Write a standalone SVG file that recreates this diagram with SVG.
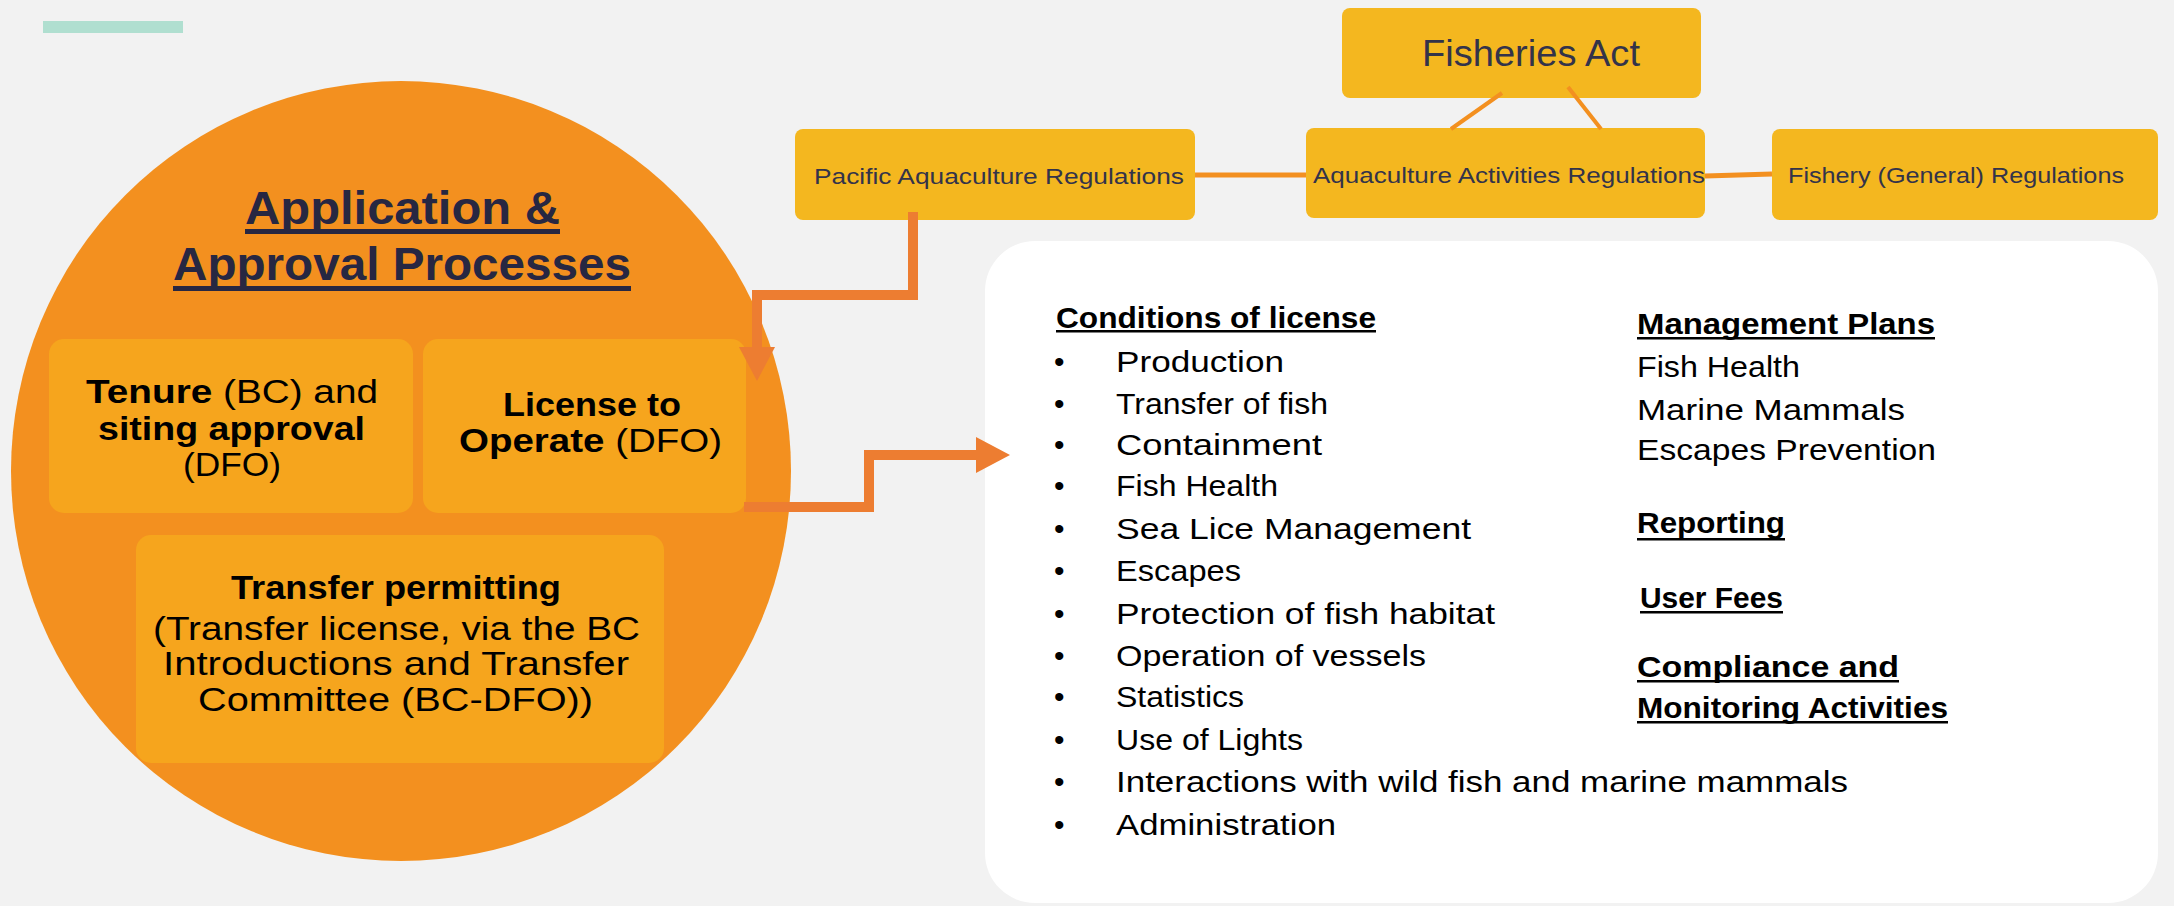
<svg xmlns="http://www.w3.org/2000/svg" width="2174" height="906" viewBox="0 0 2174 906">
<style>
text{font-family:"Liberation Sans",Arial,sans-serif;}
.b{font-weight:bold;}
.title{font-size:47px;font-weight:bold;fill:#272742;}
.bx{font-size:33px;fill:#000;}
.reg{font-size:22px;fill:#33334A;}
.li{font-size:30px;fill:#000;}
.inner{fill:#F6A51D;}
.top{fill:#F4B71F;}
.conn{stroke:#F39020;fill:none;}
.arr{stroke:#ED7D31;stroke-width:10;fill:none;stroke-linejoin:miter;}
.ul{fill:#000;}
</style>
<defs>
<marker id="ah" markerUnits="userSpaceOnUse" markerWidth="34" markerHeight="36" refX="0" refY="18" orient="auto" viewBox="0 0 34 36">
<path d="M0,0 L34,18 L0,36 Z" fill="#ED7D31"/>
</marker>
</defs>
<rect width="2174" height="906" fill="#F2F2F2"/>
<rect x="43" y="21" width="140" height="12" fill="#B0DFD0"/>

<g id="panel">
<rect x="985" y="241" width="1173" height="662" rx="50" fill="#FFFFFF"/>
</g>

<g id="approval">
<circle cx="401" cy="471" r="390" fill="#F3901F"/>
<text class="title" x="245" y="224" textLength="315" lengthAdjust="spacingAndGlyphs">Application &amp;</text>
<rect x="245" y="229" width="315" height="5" fill="#272742"/>
<text class="title" x="173" y="280" textLength="458" lengthAdjust="spacingAndGlyphs">Approval Processes</text>
<rect x="173" y="286" width="458" height="5" fill="#272742"/>
</g>

<g id="tenure">
<rect class="inner" x="49" y="339" width="364" height="174" rx="15"/>
<text class="bx" x="86" y="403" textLength="292" lengthAdjust="spacingAndGlyphs"><tspan class="b">Tenure</tspan> (BC) and</text>
<text class="bx b" x="98" y="440" textLength="267" lengthAdjust="spacingAndGlyphs">siting approval</text>
<text class="bx" x="183" y="476" textLength="98" lengthAdjust="spacingAndGlyphs">(DFO)</text>
</g>

<g id="license">
<rect class="inner" x="423" y="339" width="323" height="174" rx="15"/>
<text class="bx b" x="503" y="416" textLength="178" lengthAdjust="spacingAndGlyphs">License to</text>
<text class="bx" x="459" y="452" textLength="263" lengthAdjust="spacingAndGlyphs"><tspan class="b">Operate</tspan> (DFO)</text>
</g>

<g id="transfer">
<rect class="inner" x="136" y="535" width="528" height="228" rx="15"/>
<text class="bx b" x="231" y="599" textLength="330" lengthAdjust="spacingAndGlyphs">Transfer permitting</text>
<text class="bx" x="153" y="640" textLength="487" lengthAdjust="spacingAndGlyphs">(Transfer license, via the BC</text>
<text class="bx" x="163" y="675" textLength="466" lengthAdjust="spacingAndGlyphs">Introductions and Transfer</text>
<text class="bx" x="198" y="711" textLength="395" lengthAdjust="spacingAndGlyphs">Committee (BC-DFO))</text>
</g>

<g id="fisheries-act">
<rect class="top" x="1342" y="8" width="359" height="90" rx="8"/>
<text x="1422" y="66" font-size="36" fill="#33334A" textLength="218" lengthAdjust="spacingAndGlyphs">Fisheries Act</text>
</g>

<g id="pacific">
<rect class="top" x="795" y="129" width="400" height="91" rx="8"/>
<text class="reg" x="814" y="184" textLength="370" lengthAdjust="spacingAndGlyphs">Pacific Aquaculture Regulations</text>
</g>

<g id="activities">
<rect class="top" x="1306" y="128" width="399" height="90" rx="8"/>
<text class="reg" x="1313" y="183" textLength="392" lengthAdjust="spacingAndGlyphs">Aquaculture Activities Regulations</text>
</g>

<g id="general">
<rect class="top" x="1772" y="129" width="386" height="91" rx="8"/>
<text class="reg" x="1788" y="183" textLength="336" lengthAdjust="spacingAndGlyphs">Fishery (General) Regulations</text>
</g>

<g id="connectors">
<line class="conn" x1="1195" y1="175" x2="1306" y2="175" stroke-width="5"/>
<line class="conn" x1="1705" y1="176" x2="1772" y2="174" stroke-width="5"/>
<line class="conn" x1="1502" y1="93" x2="1451" y2="129" stroke-width="4"/>
<line class="conn" x1="1568" y1="87" x2="1601" y2="129" stroke-width="4"/>
<path class="arr" d="M913,212 V295 H757 V347" marker-end="url(#ah)"/>
<path class="arr" d="M744,507 H869 V455 H976" marker-end="url(#ah)"/>
</g>

<g id="conditions">
<text class="li b" x="1056" y="328" textLength="320" lengthAdjust="spacingAndGlyphs">Conditions of license</text>
<rect class="ul" x="1056" y="330" width="320" height="2.5"/>
<text class="li" x="1054" y="372">•</text><text class="li" x="1116" y="372" textLength="168" lengthAdjust="spacingAndGlyphs">Production</text>
<text class="li" x="1054" y="414">•</text><text class="li" x="1116" y="414" textLength="212" lengthAdjust="spacingAndGlyphs">Transfer of fish</text>
<text class="li" x="1054" y="455">•</text><text class="li" x="1116" y="455" textLength="206" lengthAdjust="spacingAndGlyphs">Containment</text>
<text class="li" x="1054" y="496">•</text><text class="li" x="1116" y="496" textLength="162" lengthAdjust="spacingAndGlyphs">Fish Health</text>
<text class="li" x="1054" y="539">•</text><text class="li" x="1116" y="539" textLength="355" lengthAdjust="spacingAndGlyphs">Sea Lice Management</text>
<text class="li" x="1054" y="581">•</text><text class="li" x="1116" y="581" textLength="125" lengthAdjust="spacingAndGlyphs">Escapes</text>
<text class="li" x="1054" y="624">•</text><text class="li" x="1116" y="624" textLength="379" lengthAdjust="spacingAndGlyphs">Protection of fish habitat</text>
<text class="li" x="1054" y="666">•</text><text class="li" x="1116" y="666" textLength="310" lengthAdjust="spacingAndGlyphs">Operation of vessels</text>
<text class="li" x="1054" y="707">•</text><text class="li" x="1116" y="707" textLength="128" lengthAdjust="spacingAndGlyphs">Statistics</text>
<text class="li" x="1054" y="750">•</text><text class="li" x="1116" y="750" textLength="187" lengthAdjust="spacingAndGlyphs">Use of Lights</text>
<text class="li" x="1054" y="792">•</text><text class="li" x="1116" y="792" textLength="732" lengthAdjust="spacingAndGlyphs">Interactions with wild fish and marine mammals</text>
<text class="li" x="1054" y="835">•</text><text class="li" x="1116" y="835" textLength="220" lengthAdjust="spacingAndGlyphs">Administration</text>
</g>

<g id="management">
<text class="li b" x="1637" y="334" textLength="298" lengthAdjust="spacingAndGlyphs">Management Plans</text>
<rect class="ul" x="1637" y="337" width="298" height="2.5"/>
<text class="li" x="1637" y="377" textLength="163" lengthAdjust="spacingAndGlyphs">Fish Health</text>
<text class="li" x="1637" y="420" textLength="268" lengthAdjust="spacingAndGlyphs">Marine Mammals</text>
<text class="li" x="1637" y="460" textLength="299" lengthAdjust="spacingAndGlyphs">Escapes Prevention</text>
</g>

<g id="reporting">
<text class="li b" x="1637" y="533" textLength="148" lengthAdjust="spacingAndGlyphs">Reporting</text>
<rect class="ul" x="1637" y="538" width="148" height="2.5"/>
</g>

<g id="fees">
<text class="li b" x="1640" y="608" textLength="143" lengthAdjust="spacingAndGlyphs">User Fees</text>
<rect class="ul" x="1640" y="611" width="143" height="2.5"/>
</g>

<g id="compliance">
<text class="li b" x="1637" y="677" textLength="262" lengthAdjust="spacingAndGlyphs">Compliance and</text>
<rect class="ul" x="1637" y="680" width="262" height="2.5"/>
<text class="li b" x="1637" y="718" textLength="311" lengthAdjust="spacingAndGlyphs">Monitoring Activities</text>
<rect class="ul" x="1637" y="721" width="311" height="2.5"/>
</g>
</svg>
